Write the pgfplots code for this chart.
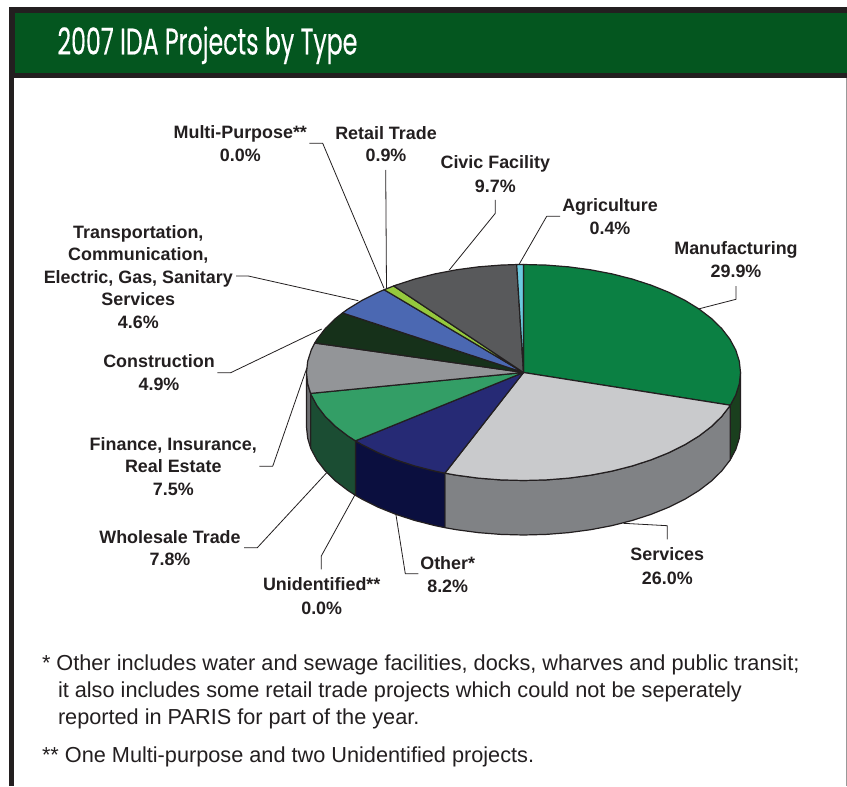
\documentclass[border=0pt]{standalone}
\usepackage{fontspec}
\usepackage{pgfplots}
\pgfplotsset{compat=1.18}
\setmainfont{Liberation Sans}
\newfontfamily\titlefont[FakeBold=0.4]{Poppins}

\definecolor{ink}{HTML}{231F20}
\definecolor{header}{HTML}{04561F}
\definecolor{manu}{HTML}{0B8043}
\definecolor{manuside}{HTML}{1A3F1E}
\definecolor{serv}{HTML}{C9CACC}
\definecolor{servside}{HTML}{808285}
\definecolor{other}{HTML}{262A75}
\definecolor{otherside}{HTML}{0B0F3F}
\definecolor{whole}{HTML}{339E66}
\definecolor{wholeside}{HTML}{1B4D33}
\definecolor{fin}{HTML}{939598}
\definecolor{finside}{HTML}{6D6E71}
\definecolor{constr}{HTML}{16311A}
\definecolor{trans}{HTML}{4B68B2}
\definecolor{retail}{HTML}{95C93D}
\definecolor{civic}{HTML}{58595B}
\definecolor{agri}{HTML}{6CCBE0}

% one line of a slice label, centred on x, sitting on baseline y
\newcommand{\lab}[3]{\node[anchor=base,inner sep=0pt,text=ink,font=\fontsize{17.9}{20}\selectfont\bfseries] at (axis cs:#1,#2) {#3};}
\newcommand{\note}[3]{\node[anchor=base west,inner sep=0pt,text=ink,font=\fontsize{21.7}{24}\selectfont] at (axis cs:#1,#2) {#3};}

\begin{document}
\begin{tikzpicture}
\begin{axis}[
    scale only axis,
    width=847pt, height=786pt,
    xmin=0, xmax=847, ymin=0, ymax=786,
    y dir=reverse,
    hide axis,
    clip=false,
    every axis plot/.style={draw=ink, line width=1.2pt, line join=round, mark=none},
]
% page background, keeps the picture at full size
\addplot[fill=white, draw=none] coordinates {(0,0)(847,0)(847,786)(0,786)} --cycle;
% frame and header
\addplot[fill=ink, draw=none] coordinates {(8.5,7)(847,7)(847,78)(8.5,78)} --cycle;
\addplot[fill=ink, draw=none] coordinates {(8.5,78)(14,78)(14,786)(8.5,786)} --cycle;
\addplot[fill=header, draw=none] coordinates {(14.5,13)(847,13)(847,73)(14.5,73)} --cycle;
\addplot[draw=black!40, line width=0.8pt] coordinates {(846.3,78)(846.3,786)};

% side walls, front half of the pie
\addplot[fill=manuside] coordinates {(740.5,372.5)(739.31,383.79)(735.76,394.95)(730.3,405.22)(730.3,459.72)(735.76,449.45)(739.31,438.29)(740.5,427)} --cycle;
\addplot[fill=servside] coordinates {(730.3,405.22)(729.88,405.87)(721.74,416.43)(711.43,426.5)(699.06,435.98)(684.76,444.77)(668.7,452.76)(651.05,459.87)(632,466.03)(611.76,471.16)(590.56,475.21)(568.62,478.14)(546.18,479.91)(523.5,480.5)(500.82,479.91)(478.38,478.14)(456.44,475.21)(444.89,473.16)
  (444.89,527.66)(456.44,529.71)(478.38,532.64)(500.82,534.41)(523.5,535)(546.18,534.41)(568.62,532.64)(590.56,529.71)(611.76,525.66)(632,520.53)(651.05,514.37)(668.7,507.26)(684.76,499.27)(699.06,490.48)(711.43,481)(721.74,470.93)(729.88,460.37)(730.3,459.72)} --cycle;
\addplot[fill=otherside] coordinates {(444.89,473.16)(435.24,471.16)(415,466.03)(395.95,459.87)(378.3,452.76)(362.24,444.77)(355.43,440.82)
  (355.43,495.32)(362.24,499.27)(378.3,507.26)(395.95,514.37)(415,520.53)(435.24,525.66)(444.89,527.66)} --cycle;
\addplot[fill=wholeside] coordinates {(355.43,440.82)(347.94,435.98)(335.57,426.5)(325.26,416.43)(317.12,405.87)(311.24,394.95)(310.6,393.4)
  (310.6,447.9)(311.24,449.45)(317.12,460.37)(325.26,470.93)(335.57,481)(347.94,490.48)(355.43,495.32)} --cycle;
\addplot[fill=finside] coordinates {(310.6,393.4)(307.69,383.79)(306.5,372.5)(306.5,427)(307.69,438.29)(310.6,447.9)} --cycle;

% top face: Manufacturing 29.9
\addplot[fill=manu] coordinates {(523.5,372.5)(523.5,264.5)(546.18,265.09)(568.62,266.86)(590.56,269.79)(611.76,273.84)(632,278.97)(651.05,285.13)(668.7,292.24)(684.76,300.23)(699.06,309.02)(711.43,318.5)(721.74,328.57)(729.88,339.13)(735.76,350.05)(739.31,361.21)(740.5,372.5)(739.31,383.79)(735.76,394.95)(730.3,405.22)} --cycle;
% Services 26.0
\addplot[fill=serv] coordinates {(523.5,372.5)(730.3,405.22)(729.88,405.87)(721.74,416.43)(711.43,426.5)(699.06,435.98)(684.76,444.77)(668.7,452.76)(651.05,459.87)(632,466.03)(611.76,471.16)(590.56,475.21)(568.62,478.14)(546.18,479.91)(523.5,480.5)(500.82,479.91)(478.38,478.14)(456.44,475.21)(444.89,473.16)} --cycle;
% Other 8.2
\addplot[fill=other] coordinates {(523.5,372.5)(444.89,473.16)(435.24,471.16)(415,466.03)(395.95,459.87)(378.3,452.76)(362.24,444.77)(355.43,440.82)} --cycle;
% Wholesale Trade 7.8
\addplot[fill=whole] coordinates {(523.5,372.5)(355.43,440.82)(347.94,435.98)(335.57,426.5)(325.26,416.43)(317.12,405.87)(311.24,394.95)(310.6,393.4)} --cycle;
% Finance 7.5
\addplot[fill=fin] coordinates {(523.5,372.5)(310.6,393.4)(307.69,383.79)(306.5,372.5)(307.69,361.21)(311.24,350.05)(314.74,343.02)} --cycle;
% Construction 4.9
\addplot[fill=constr] coordinates {(523.5,372.5)(314.74,343.02)(317.12,339.13)(325.26,328.57)(335.57,318.5)(342.5,312.92)} --cycle;
% Transportation 4.6
\addplot[fill=trans] coordinates {(523.5,372.5)(342.5,312.92)(347.94,309.02)(362.24,300.23)(378.3,292.24)(384.14,289.72)} --cycle;
% Retail Trade 0.9
\addplot[fill=retail] coordinates {(523.5,372.5)(384.14,289.72)(393.69,285.95)} --cycle;
% Civic Facility 9.7
\addplot[fill=civic] coordinates {(523.5,372.5)(393.69,285.95)(395.95,285.13)(415,278.97)(435.24,273.84)(456.44,269.79)(478.38,266.86)(500.82,265.09)(516.68,264.55)} --cycle;
% Agriculture 0.4
\addplot[fill=agri] coordinates {(523.5,372.5)(516.68,264.55)(523.5,264.5)} --cycle;

% leader lines
\addplot[line width=0.8pt, fill=none] coordinates {(309.3,143.3)(322.7,143.3)(384,288.3)};
\addplot[line width=0.8pt, fill=none] coordinates {(385.7,170)(386.5,288)};
\addplot[line width=0.8pt, fill=none] coordinates {(236,276)(248.3,276)(358.3,300.7)};
\addplot[line width=0.8pt, fill=none] coordinates {(217.3,372.7)(230.7,372.7)(321.7,329)};
\addplot[line width=0.8pt, fill=none] coordinates {(259.3,466.3)(272.7,466.3)(306.7,368.3)};
\addplot[line width=0.8pt, fill=none] coordinates {(244,547.7)(257.3,547.7)(326.7,472.7)};
\addplot[line width=0.8pt, fill=none] coordinates {(321.3,569.3)(321.3,556)(354.7,495.3)};
\addplot[line width=0.8pt, fill=none] coordinates {(418.3,573.7)(405.3,573.7)(396,515)};
\addplot[line width=0.8pt, fill=none] coordinates {(667.3,539.3)(667.3,525.7)(623.3,523.3)};
\addplot[line width=0.8pt, fill=none] coordinates {(736,286)(736,299.3)(698.3,309)};
\addplot[line width=0.8pt, fill=none] coordinates {(560,216.3)(546.7,216.3)(519.3,264)};
\addplot[line width=0.8pt, fill=none] coordinates {(495.3,200)(495.3,213.3)(449.3,270)};

% title
\node[anchor=base west,inner sep=0pt,text=white] at (axis cs:57.3,54.5) {\titlefont\fontsize{37}{40}\selectfont\scalebox{0.64}[1]{2007 IDA Projects by Type}};

% slice labels
\lab{240.3}{138.8}{Multi-Purpose**}
\lab{240.3}{161.7}{0.0\%}
\lab{386}{139.8}{Retail Trade}
\lab{386}{161.7}{0.9\%}
\lab{495.3}{168.8}{Civic Facility}
\lab{495.3}{192.2}{9.7\%}
\lab{610}{212}{Agriculture}
\lab{610}{235}{0.4\%}
\lab{736}{254.8}{Manufacturing}
\lab{736}{277.8}{29.9\%}
\lab{138.3}{238.8}{Transportation,}
\lab{138.3}{260.7}{Communication,}
\lab{138.3}{283.2}{Electric, Gas, Sanitary}
\lab{138.3}{305.8}{Services}
\lab{138.3}{328.4}{4.6\%}
\lab{159}{367.5}{Construction}
\lab{159}{390.7}{4.9\%}
\lab{173.3}{450.5}{Finance, Insurance,}
\lab{173.3}{472.7}{Real Estate}
\lab{173.3}{495.5}{7.5\%}
\lab{170}{543.2}{Wholesale Trade}
\lab{170}{565.7}{7.8\%}
\lab{321.7}{590.5}{Unidentified**}
\lab{321.7}{614}{0.0\%}
\lab{447.7}{569.8}{Other*}
\lab{447.7}{592}{8.2\%}
\lab{667.3}{560.5}{Services}
\lab{667.3}{584}{26.0\%}

% footnotes
\note{41.8}{670.8}{* Other includes water and sewage facilities, docks, wharves and public transit;}
\note{57.8}{697.7}{it also includes some retail trade projects which could not be seperately}
\note{57.8}{724.8}{reported in PARIS for part of the year.}
\note{41.8}{762.2}{** One Multi-purpose and two Unidentified projects.}
\end{axis}
\end{tikzpicture}
\end{document}
